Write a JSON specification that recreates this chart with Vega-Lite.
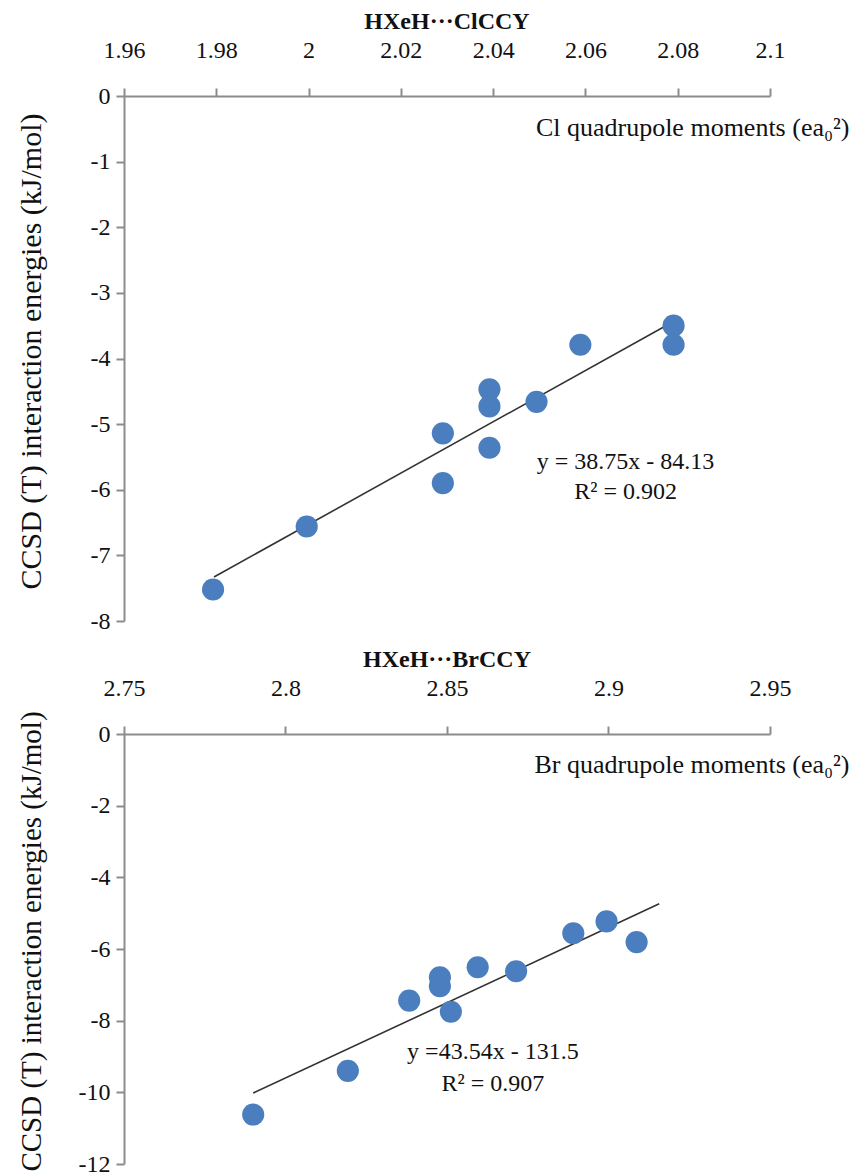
{
  "$schema": "https://vega.github.io/schema/vega-lite/v6.json",
  "padding": {"left": 15, "top": 10, "right": 0, "bottom": 0},
  "background": "white",
  "config": {
    "font": "Liberation Serif",
    "view": {"stroke": null},
    "axis": {
      "grid": false,
      "domainColor": "#8c8c8c",
      "domainWidth": 2,
      "tickColor": "#8c8c8c",
      "tickWidth": 2,
      "tickSize": 8,
      "labelFlush": false,
      "labelFont": "Liberation Serif",
      "labelFontSize": 24,
      "labelColor": "#111111",
      "titleFont": "Liberation Serif",
      "titleFontSize": 30,
      "titleFontWeight": "normal",
      "titleColor": "#111111"
    },
    "title": {"font": "Liberation Serif", "fontSize": 24, "fontWeight": "bold", "color": "#111111", "anchor": "middle", "frame": "group", "offset": 4}
  },
  "datasets": {
    "cl": [
      {"q": 1.9793, "e": -7.52},
      {"q": 1.9996, "e": -6.56},
      {"q": 2.0291, "e": -5.14},
      {"q": 2.0291, "e": -5.90},
      {"q": 2.0392, "e": -4.47},
      {"q": 2.0392, "e": -4.73},
      {"q": 2.0392, "e": -5.36},
      {"q": 2.0494, "e": -4.66},
      {"q": 2.0589, "e": -3.79},
      {"q": 2.0791, "e": -3.50},
      {"q": 2.0791, "e": -3.79}
    ],
    "clfit": [
      {"q": 1.9795, "e": -7.33},
      {"q": 2.0790, "e": -3.44}
    ],
    "cleq": [
      {"q": 2.0687, "e": -5.58, "t": "y = 38.75x - 84.13"},
      {"q": 2.0687, "e": -6.04, "t": "R² = 0.902"}
    ],
    "br": [
      {"q": 2.7900, "e": -10.62},
      {"q": 2.8193, "e": -9.40},
      {"q": 2.8383, "e": -7.44},
      {"q": 2.8478, "e": -6.79},
      {"q": 2.8478, "e": -7.04},
      {"q": 2.8512, "e": -7.75},
      {"q": 2.8595, "e": -6.51},
      {"q": 2.8714, "e": -6.62},
      {"q": 2.8891, "e": -5.56},
      {"q": 2.8994, "e": -5.23},
      {"q": 2.9087, "e": -5.81}
    ],
    "brfit": [
      {"q": 2.7900, "e": -10.02},
      {"q": 2.9157, "e": -4.74}
    ],
    "breq": [
      {"q": 2.8642, "e": -8.875, "t": "y =43.54x - 131.5"},
      {"q": 2.8642, "e": -9.77, "t": "R² = 0.907"}
    ]
  },
  "spacing": 15,
  "vconcat": [
    {
      "title": {"text": "HXeH···ClCCY"},
      "width": 646,
      "height": 525,
      "layer": [
        {
          "data": {"name": "clfit"},
          "mark": {"type": "line", "color": "#333333", "strokeWidth": 1.6},
          "encoding": {
            "x": {
              "field": "q", "type": "quantitative",
              "scale": {"domain": [1.96, 2.1], "nice": false, "zero": false},
              "axis": {
                "orient": "top",
                "values": [1.96, 1.98, 2.0, 2.02, 2.04, 2.06, 2.08, 2.1],
                "labelExpr": "'' + datum.value",
                "labelFont": "Liberation Serif",
                "labelFlush": false,
                "labelPadding": 26,
                "title": "Cl quadrupole moments (ea₀²)",
                "titleX": 725,
                "titleY": 31,
                "titleAlign": "right",
                "titleBaseline": "middle",
                "titleAngle": 0,
                "titleFontSize": 26
              }
            },
            "y": {
              "field": "e", "type": "quantitative",
              "scale": {"domain": [-8, 0], "nice": false, "zero": false},
              "axis": {
                "values": [0, -1, -2, -3, -4, -5, -6, -7, -8],
                "labelExpr": "'' + datum.value",
                "labelFont": "Liberation Serif",
                "labelFlush": false,
                "labelPadding": 6,
                "title": "CCSD (T) interaction energies (kJ/mol)",
                "titleX": -93,
                "titleY": 255,
                "titleBaseline": "middle",
                "titleAngle": -90
              }
            }
          }
        },
        {
          "data": {"name": "cl"},
          "mark": {"type": "circle", "size": 490, "color": "#4a7ebf", "opacity": 1},
          "encoding": {
            "x": {"field": "q", "type": "quantitative"},
            "y": {"field": "e", "type": "quantitative"}
          }
        },
        {
          "data": {"name": "cleq"},
          "mark": {"type": "text", "fontSize": 24, "color": "#111111", "align": "center", "baseline": "middle", "font": "Liberation Serif"},
          "encoding": {
            "x": {"field": "q", "type": "quantitative"},
            "y": {"field": "e", "type": "quantitative"},
            "text": {"field": "t"}
          }
        }
      ]
    },
    {
      "title": {"text": "HXeH···BrCCY"},
      "width": 646,
      "height": 430,
      "layer": [
        {
          "data": {"name": "brfit"},
          "mark": {"type": "line", "color": "#333333", "strokeWidth": 1.6},
          "encoding": {
            "x": {
              "field": "q", "type": "quantitative",
              "scale": {"domain": [2.75, 2.95], "nice": false, "zero": false},
              "axis": {
                "orient": "top",
                "values": [2.75, 2.8, 2.85, 2.9, 2.95],
                "labelExpr": "'' + datum.value",
                "labelFont": "Liberation Serif",
                "labelFlush": false,
                "labelPadding": 26,
                "title": "Br quadrupole moments (ea₀²)",
                "titleX": 725,
                "titleY": 30,
                "titleAlign": "right",
                "titleBaseline": "middle",
                "titleAngle": 0,
                "titleFontSize": 26
              }
            },
            "y": {
              "field": "e", "type": "quantitative",
              "scale": {"domain": [-12, 0], "nice": false, "zero": false},
              "axis": {
                "values": [0, -2, -4, -6, -8, -10, -12],
                "labelExpr": "'' + datum.value",
                "labelFont": "Liberation Serif",
                "labelFlush": false,
                "labelPadding": 6,
                "title": "CCSD (T) interaction energies (kJ/mol)",
                "titleX": -93,
                "titleY": 207,
                "titleBaseline": "middle",
                "titleAngle": -90,
                "titleFontSize": 29
              }
            }
          }
        },
        {
          "data": {"name": "br"},
          "mark": {"type": "circle", "size": 490, "color": "#4a7ebf", "opacity": 1},
          "encoding": {
            "x": {"field": "q", "type": "quantitative"},
            "y": {"field": "e", "type": "quantitative"}
          }
        },
        {
          "data": {"name": "breq"},
          "mark": {"type": "text", "fontSize": 24, "color": "#111111", "align": "center", "baseline": "middle", "font": "Liberation Serif"},
          "encoding": {
            "x": {"field": "q", "type": "quantitative"},
            "y": {"field": "e", "type": "quantitative"},
            "text": {"field": "t"}
          }
        }
      ]
    }
  ]
}
